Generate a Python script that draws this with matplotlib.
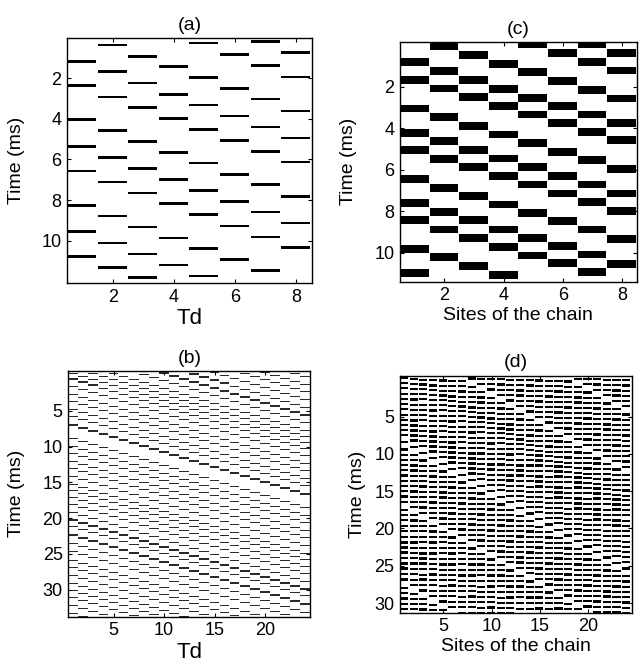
import matplotlib
matplotlib.use("Agg")
import matplotlib.pyplot as plt
import numpy as np

plt.rcParams['font.family'] = ['Liberation Sans', 'DejaVu Sans']

# (a) firing times (ms) for each of the 8 sites
spikes_a = [
    [1.16, 2.36, 4.02, 5.36, 6.56, 8.26, 9.57, 10.79],
    [0.35, 1.67, 2.91, 4.56, 5.90, 7.12, 8.79, 10.13, 11.32],
    [0.91, 2.23, 3.44, 5.12, 6.45, 7.65, 9.34, 10.66, 11.83],
    [1.42, 2.78, 3.97, 5.65, 6.99, 8.18, 9.87, 11.21],
    [0.25, 1.95, 3.31, 4.51, 6.18, 7.54, 8.73, 10.40, 11.75],
    [0.83, 2.50, 3.85, 5.06, 6.73, 8.07, 9.29, 10.94],
    [0.17, 1.37, 3.02, 4.40, 5.59, 7.24, 8.60, 9.82, 11.49],
    [0.71, 1.92, 3.60, 4.93, 6.13, 7.82, 9.14, 10.36],
]

# (c) firing times (ms) for each of the 8 sites of the chain
spikes_c = [
    [0.81, 1.65, 3.04, 4.22, 5.05, 6.43, 7.59, 8.43, 9.81, 10.97],
    [0.04, 1.24, 2.08, 3.46, 4.62, 5.47, 6.87, 8.02, 8.88, 10.21],
    [0.47, 1.65, 2.50, 3.90, 5.05, 5.87, 7.27, 8.43, 9.28, 10.64],
    [0.89, 2.10, 2.93, 4.30, 5.45, 6.31, 7.67, 8.88, 9.71, 11.09],
    [-0.04, 1.29, 2.53, 3.33, 4.70, 5.87, 6.71, 8.07, 9.28, 10.13],
    [0.36, 1.73, 2.93, 3.73, 5.13, 6.31, 7.14, 8.47, 9.68, 10.51],
    [-0.04, 0.80, 2.16, 3.33, 4.17, 5.53, 6.71, 7.54, 8.88, 10.08, 10.92],
    [0.36, 1.21, 2.56, 3.73, 4.57, 5.95, 7.14, 7.98, 9.33, 10.53],
]

# (b) wave arrival times at site 1 (ms) and delay per site (ms)
onsets_b = [-10.6, -9.5, -8.4, -7.4, -6.3, -5.2, -4.1, -3.0, -1.9, -1.1,
            -0.27, 0.54, 1.62, 2.65, 3.68, 4.80, 5.79, 6.97, 8.85, 9.93,
            11.0, 12.04, 13.07, 14.2, 15.3, 16.1, 17.06, 18.04, 19.2, 20.25,
            21.2, 22.37, 23.5, 24.7, 25.9, 26.9, 28.0, 29.1, 30.1, 31.1,
            32.2, 33.3]
lag_b = 0.42

# (d) wave arrival times at site 1 (ms) and delay per site (ms)
onsets_d = [-17.6, -16.9, -16.2, -15.5, -14.8, -14.1, -13.4, -12.3, -11.6,
            -10.9, -10.2, -9.5, -8.8, -8.1, -7.4, -6.7, -6.0, -5.3, -4.2,
            -3.5, -2.8, -2.1, -1.4, -0.8, -0.16,
            0.51, 1.18, 1.95, 2.66, 3.33, 4.01, 4.77, 5.44, 6.12, 6.79,
            7.46, 8.36, 9.40, 10.1, 10.8, 11.5, 12.2, 12.9, 13.6, 14.3,
            15.0, 15.7, 16.4, 17.5, 18.2, 18.9, 19.65, 20.36, 21.13, 21.88,
            22.56, 23.23, 23.95, 24.71, 25.38, 26.14, 26.85, 28.0, 28.7, 29.4,
            30.1, 30.8]
lag_d = 0.74


def draw_columns(ax, columns, height, frac, color='black'):
    for k, times in enumerate(columns, start=1):
        times = np.asarray(times)
        ax.barh(times, frac, left=k - 0.5, height=height, color=color,
                align='center', linewidth=0)


def waves_to_columns(onsets, lag, nsites, tmin, tmax):
    cols = []
    base = np.asarray(onsets)
    for k in range(nsites):
        t = base + lag * k
        cols.append(t[(t > tmin) & (t < tmax)])
    return cols


def style(ax, title, xlabel, xticks, yticks, xlim, ylim, xl_size=14,
          ylab_x=-0.17):
    ax.set_xlim(*xlim)
    ax.set_ylim(*ylim)
    ax.set_xticks(xticks)
    ax.set_yticks(yticks)
    ax.tick_params(direction='in', length=3, width=0.8, labelsize=13,
                   top=True, right=True, pad=4)
    ax.set_title(title, fontsize=14, pad=6)
    ax.set_xlabel(xlabel, fontsize=xl_size, labelpad=2)
    ax.set_ylabel('Time (ms)', fontsize=14)
    ax.yaxis.set_label_coords(ylab_x, 0.5)
    for s in ax.spines.values():
        s.set_linewidth(1.0)


fig = plt.figure(figsize=(6.44, 6.66), dpi=100)

ax_a = fig.add_axes([0.104, 0.575, 0.380, 0.368])
draw_columns(ax_a, spikes_a, 0.13, 0.95)
style(ax_a, '(a)', 'Td', [2, 4, 6, 8], [2, 4, 6, 8, 10], (0.5, 8.5), (12.1, 0),
      xl_size=16)

ax_c = fig.add_axes([0.621, 0.577, 0.368, 0.360])
draw_columns(ax_c, spikes_c, 0.37, 0.97)
style(ax_c, '(c)', 'Sites of the chain', [2, 4, 6, 8], [2, 4, 6, 8, 10],
      (0.5, 8.5), (11.4, -0.17), ylab_x=-0.18)

ax_b = fig.add_axes([0.106, 0.074, 0.376, 0.369])
cols_b = waves_to_columns(onsets_b, lag_b, 24, -0.7, 33.9)
draw_columns(ax_b, cols_b, 0.17, 0.97, color='#2a2a2a')
style(ax_b, '(b)', 'Td', [5, 10, 15, 20], [5, 10, 15, 20, 25, 30],
      (0.5, 24.5), (33.8, -0.6), xl_size=16, ylab_x=-0.178)

ax_d = fig.add_axes([0.621, 0.080, 0.360, 0.356])
cols_d = waves_to_columns(onsets_d, lag_d, 24, -0.6, 31.4)
draw_columns(ax_d, cols_d, 0.3, 0.85)
style(ax_d, '(d)', 'Sites of the chain', [5, 10, 15, 20],
      [5, 10, 15, 20, 25, 30], (0.5, 24.5), (31.3, -0.5), ylab_x=-0.147)

fig.savefig('out.png', dpi=100)
